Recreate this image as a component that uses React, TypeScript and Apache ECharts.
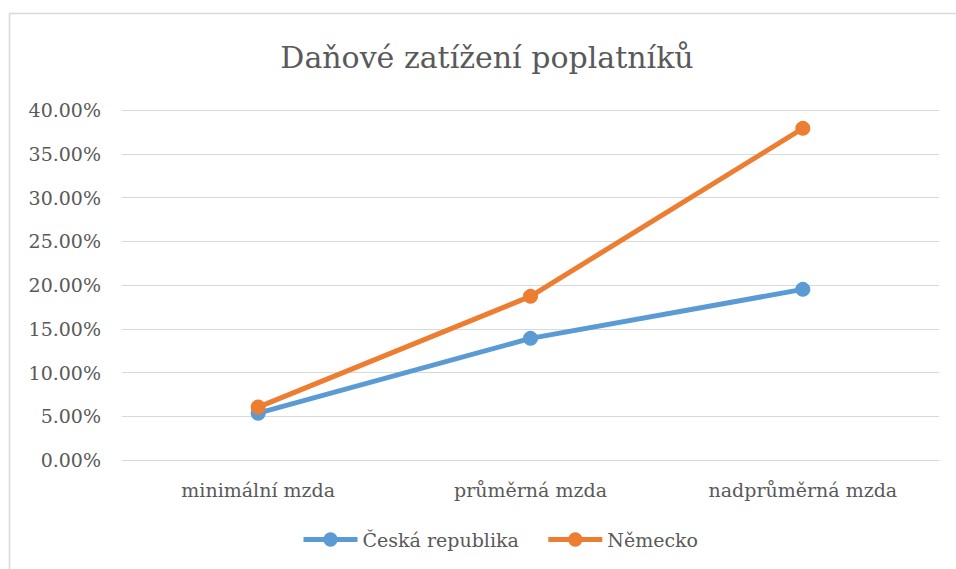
import React, { useEffect, useRef } from "react";
import * as echarts from "echarts";

const categories = ["minimální mzda", "průměrná mzda", "nadprůměrná mzda"];
const czechValues = [5.35, 13.9, 19.5];
const germanyValues = [6.05, 18.7, 37.9];
const seriesNames = ["Česká republika", "Německo"];
const titleText = "Daňové zatížení poplatníků";

const FONT = "DejaVu Serif";
const TEXT_COLOR = "#595959";
const GRID_COLOR = "#d9d9d9";

export default function App() {
  const ref = useRef<HTMLDivElement>(null);

  useEffect(() => {
    document.body.style.margin = "0";
    if (!ref.current) return;
    const chart = echarts.init(ref.current, null, { renderer: "svg" });
    chart.setOption({
      animation: false,
      backgroundColor: "#ffffff",
      textStyle: { fontFamily: FONT },
      graphic: [
        {
          type: "rect",
          silent: true,
          shape: { x: 9.5, y: 13.5, width: 1000, height: 600 },
          style: { fill: "none", stroke: GRID_COLOR, lineWidth: 1.5 },
        },
      ],
      title: {
        text: titleText,
        left: 487,
        top: 57,
        padding: 0,
        textAlign: "center",
        textVerticalAlign: "middle",
        textStyle: {
          fontFamily: FONT,
          fontSize: 30,
          fontWeight: "normal",
          color: TEXT_COLOR,
        },
      },
      legend: {
        data: seriesNames,
        left: 296,
        top: 525,
        itemWidth: 54,
        itemHeight: 18,
        itemGap: 27,
        lineStyle: { width: 5 },
        textStyle: { fontFamily: FONT, fontSize: 19, color: TEXT_COLOR },
      },
      grid: { left: 122, right: 17, top: 110, bottom: 109, containLabel: false },
      xAxis: {
        type: "category",
        data: categories,
        boundaryGap: true,
        axisLine: { show: true, lineStyle: { color: GRID_COLOR, width: 1 } },
        axisTick: { show: false },
        axisLabel: {
          fontFamily: FONT,
          fontSize: 19,
          color: TEXT_COLOR,
          margin: 20,
        },
      },
      yAxis: {
        type: "value",
        min: 0,
        max: 40,
        interval: 5,
        axisLine: { show: false },
        axisTick: { show: false },
        splitLine: { lineStyle: { color: GRID_COLOR, width: 1 } },
        axisLabel: {
          fontFamily: FONT,
          fontSize: 19,
          color: TEXT_COLOR,
          margin: 21,
          formatter: (v: number) => v.toFixed(2) + "%",
        },
      },
      series: [
        {
          name: seriesNames[0],
          type: "line",
          data: czechValues,
          symbol: "circle",
          symbolSize: 15,
          lineStyle: { width: 5, color: "#5B9BD5" },
          itemStyle: { color: "#5B9BD5" },
        },
        {
          name: seriesNames[1],
          type: "line",
          data: germanyValues,
          symbol: "circle",
          symbolSize: 15,
          lineStyle: { width: 5, color: "#ED7D31" },
          itemStyle: { color: "#ED7D31" },
        },
      ],
    });
    return () => chart.dispose();
  }, []);

  return <div ref={ref} style={{ width: 956, height: 569 }} />;
}
